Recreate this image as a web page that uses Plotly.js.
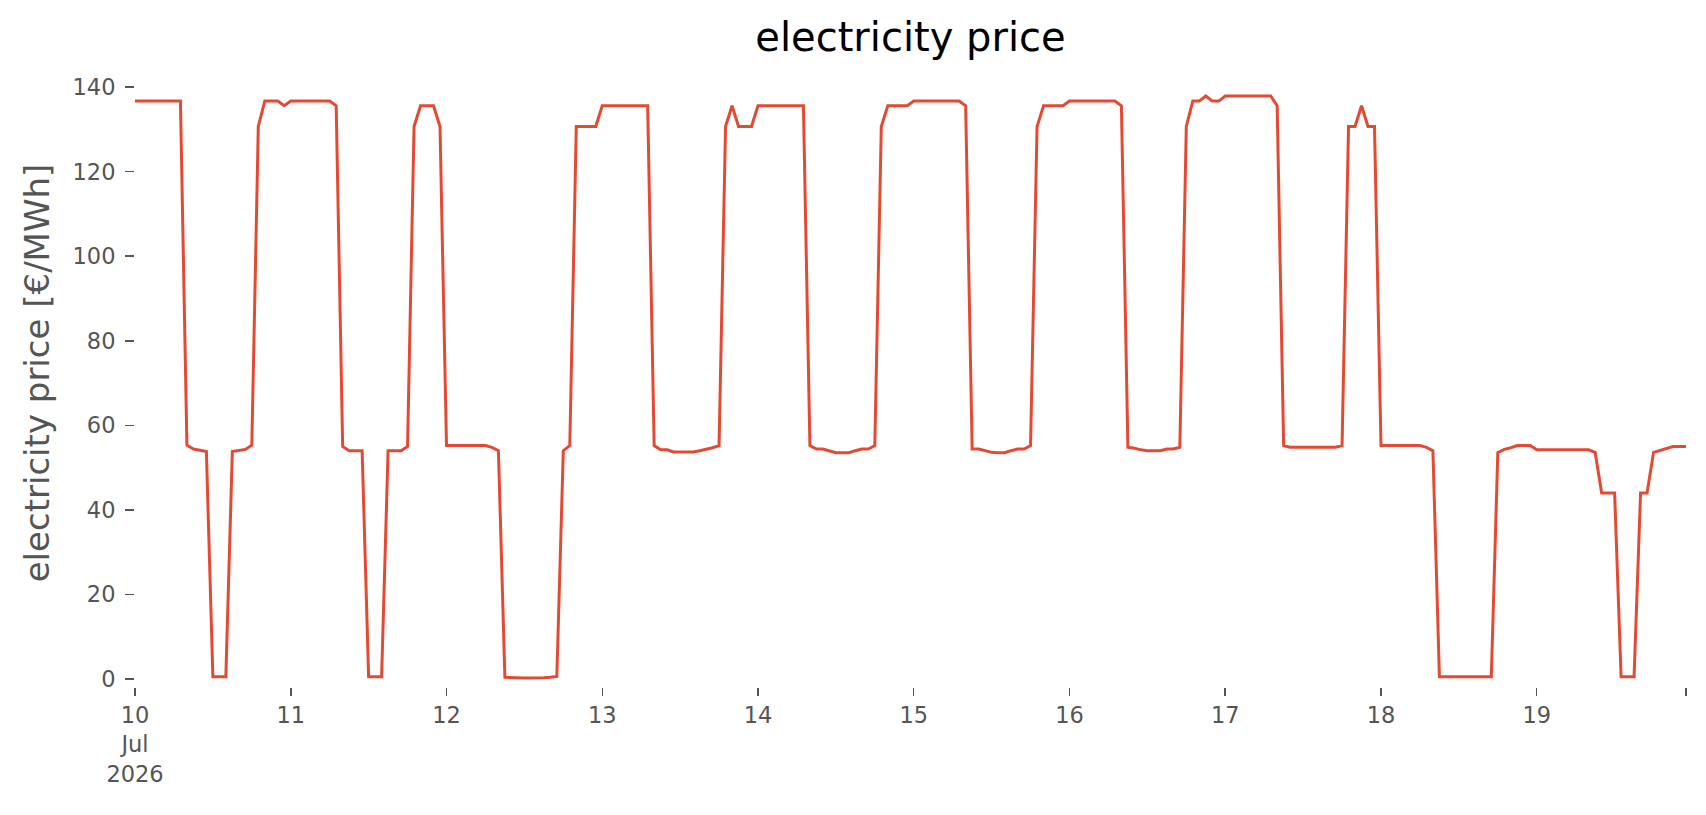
<!DOCTYPE html>
<html>
<head>
<meta charset="utf-8">
<script src="https://cdn.plot.ly/plotly-3.0.1.min.js"></script>
<style>
  html, body { margin: 0; padding: 0; background: #fff; }
  #chart { width: 1706px; height: 815px; }
</style>
</head>
<body>
<div id="chart"></div>
<script>
// hourly prices, one array per day (00:00 .. 23:00)
var days = ['2026-07-10', '2026-07-11', '2026-07-12', '2026-07-13', '2026-07-14',
            '2026-07-15', '2026-07-16', '2026-07-17', '2026-07-18', '2026-07-19'];
var dayLabels = ['10<br>Jul<br>2026', '11', '12', '13', '14', '15', '16', '17', '18', '19'];

var price10 = [136.7, 136.7, 136.7, 136.7, 136.7, 136.7, 136.7, 136.7, 55.3, 54.4, 54.1, 53.8,
               0.5, 0.5, 0.5, 53.8, 54.0, 54.3, 55.3, 130.7, 136.7, 136.7, 136.7, 135.6];
var price11 = [136.7, 136.7, 136.7, 136.7, 136.7, 136.7, 136.7, 135.6, 55.0, 54.0, 54.0, 54.0,
               0.5, 0.5, 0.5, 54.0, 54.0, 54.0, 55.0, 130.7, 135.6, 135.6, 135.6, 130.7];
var price12 = [55.2, 55.2, 55.2, 55.2, 55.2, 55.2, 55.2, 54.8, 54.0, 0.4, 0.3, 0.2,
               0.2, 0.2, 0.2, 0.3, 0.4, 0.6, 54.0, 55.2, 130.7, 130.7, 130.7, 130.7];
var price13 = [135.6, 135.6, 135.6, 135.6, 135.6, 135.6, 135.6, 135.6, 55.2, 54.2, 54.2, 53.7,
               53.7, 53.7, 53.7, 54.0, 54.3, 54.7, 55.2, 130.7, 135.6, 130.7, 130.7, 130.7];
var price14 = [135.6, 135.6, 135.6, 135.6, 135.6, 135.6, 135.6, 135.6, 55.2, 54.4, 54.4, 54.0,
               53.5, 53.5, 53.5, 54.0, 54.4, 54.4, 55.2, 130.7, 135.6, 135.6, 135.6, 135.6];
var price15 = [136.7, 136.7, 136.7, 136.7, 136.7, 136.7, 136.7, 136.7, 135.6, 54.4, 54.4, 54.0,
               53.6, 53.5, 53.5, 54.0, 54.4, 54.4, 55.2, 130.7, 135.6, 135.6, 135.6, 135.6];
var price16 = [136.7, 136.7, 136.7, 136.7, 136.7, 136.7, 136.7, 136.7, 135.6, 54.8, 54.6, 54.2,
               54.0, 54.0, 54.0, 54.4, 54.4, 54.8, 130.7, 136.7, 136.7, 137.9, 136.7, 136.7];
var price17 = [137.9, 137.9, 137.9, 137.9, 137.9, 137.9, 137.9, 137.9, 135.6, 55.2, 54.8, 54.8,
               54.8, 54.8, 54.8, 54.8, 54.8, 54.8, 55.2, 130.7, 130.7, 135.6, 130.7, 130.7];
var price18 = [55.2, 55.2, 55.2, 55.2, 55.2, 55.2, 55.2, 54.8, 54.0, 0.5, 0.5, 0.5,
               0.5, 0.5, 0.5, 0.5, 0.5, 0.5, 53.5, 54.3, 54.7, 55.2, 55.2, 55.2];
var price19 = [54.2, 54.2, 54.2, 54.2, 54.2, 54.2, 54.2, 54.2, 54.2, 53.6, 44.0, 44.0,
               44.0, 0.5, 0.5, 0.5, 44.0, 44.0, 53.6, 54.1, 54.5, 55.0, 55.0, 55.0];

var prices = [price10, price11, price12, price13, price14,
              price15, price16, price17, price18, price19];

function buildSeries(){
    var x = [], y = [];
    for (let d = 0; d < days.length; d++){
        for (let h = 0; h < prices[d].length; h++){
            var hh = (h < 10 ? '0' : '') + h;
            x.push(days[d] + ' ' + hh + ':00');
            y.push(prices[d][h]);
        }
    }
    return {x: x, y: y};
}

var s = buildSeries();
var grey = '#555555';

var trace = {
    type: 'scatter',
    mode: 'lines',
    x: s.x,
    y: s.y,
    line: {color: '#E24A33', width: 3},
    hoverinfo: 'x+y'
};

var tickvals = days.slice();
var ticktext = dayLabels.slice();
tickvals.push(s.x[s.x.length - 1]);
ticktext.push('');

var layout = {
    width: 1706,
    height: 815,
    paper_bgcolor: '#ffffff',
    plot_bgcolor: '#ffffff',
    showlegend: false,
    margin: {l: 135, r: 20, t: 85, b: 128},
    font: {family: 'DejaVu Sans', color: grey, size: 22.5},
    title: {
        text: 'electricity price',
        font: {family: 'DejaVu Sans', color: '#000000', size: 40},
        x: 0.5,
        xref: 'paper',
        xanchor: 'center',
        y: 0.955,
        yref: 'container',
        yanchor: 'middle'
    },
    xaxis: {
        type: 'date',
        range: [s.x[0], s.x[s.x.length - 1]],
        tickmode: 'array',
        tickvals: tickvals,
        ticktext: ticktext,
        ticks: 'outside',
        ticklen: 8,
        tickwidth: 1.5,
        tickcolor: grey,
        tickfont: {family: 'DejaVu Sans', color: grey, size: 22.5},
        showgrid: false,
        zeroline: false,
        showline: false
    },
    yaxis: {
        range: [-1.9, 140.5],
        tickmode: 'array',
        tickvals: [0, 20, 40, 60, 80, 100, 120, 140],
        ticks: 'outside',
        ticklen: 9,
        tickwidth: 1.5,
        tickcolor: grey,
        ticklabelstandoff: 5,
        tickfont: {family: 'DejaVu Sans', color: grey, size: 22.5},
        showgrid: false,
        zeroline: false,
        showline: false
    },
    annotations: [{
        text: 'electricity price [€/MWh]',
        font: {family: 'DejaVu Sans', color: grey, size: 34},
        textangle: -90,
        xref: 'paper',
        x: 0,
        xanchor: 'center',
        xshift: -98,
        yref: 'y',
        y: 72.3,
        yanchor: 'middle',
        showarrow: false
    }]
};

Plotly.newPlot('chart', [trace], layout, {displayModeBar: false, staticPlot: true});
</script>
</body>
</html>
